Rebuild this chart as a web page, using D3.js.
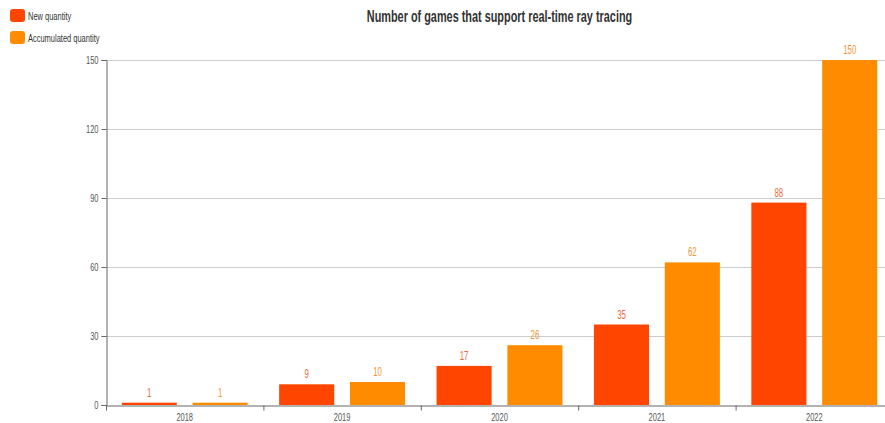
<!DOCTYPE html>
<html>
<head>
<meta charset="utf-8">
<script src="https://cdn.jsdelivr.net/npm/d3@7"></script>
<style>
  body { margin: 0; background: #fff; }
  svg text { font-family: "Liberation Sans", Arial, sans-serif; }
</style>
</head>
<body>
<svg id="chart" width="885" height="423"></svg>
<script>
const years = ["2018", "2019", "2020", "2021", "2022"];
const newQuantity = [1, 9, 17, 35, 88];
const accumulatedQuantity = [1, 10, 26, 62, 150];
const seriesNames = ["New quantity", "Accumulated quantity"];
const seriesColors = ["#FF4500", "#FF8C00"];
const yTicks = [0, 30, 60, 90, 120, 150];

const svg = d3.select("#chart");
const margin = { left: 106, right: -8, top: 60 };
const W = 885;
const plotBottom = 405;

const x = d3.scaleBand().domain(years).range([margin.left, W - margin.right]);
const inner = d3.scaleBand().domain(seriesNames).range([0, x.bandwidth()])
  .paddingInner(2 / 9).paddingOuter(2 / 9);
const y = d3.scaleLinear().domain([0, 150]).range([plotBottom, margin.top]);

// grid lines
svg.append("g").selectAll("line").data(yTicks.filter(d => d > 0)).join("line")
  .attr("x1", margin.left).attr("x2", W - margin.right)
  .attr("y1", d => y(d) + 0.5).attr("y2", d => y(d) + 0.5)
  .attr("stroke", "#cccccc").attr("stroke-width", 1);

// bars and value labels
const series = [newQuantity, accumulatedQuantity];
const labelColors = ["#E8693F", "#F0963A"];
series.forEach((vals, si) => {
  const g = svg.append("g");
  g.selectAll("rect").data(vals).join("rect")
    .attr("x", (d, i) => x(years[i]) + inner(seriesNames[si]))
    .attr("width", inner.bandwidth())
    .attr("y", d => y(d))
    .attr("height", d => plotBottom - y(d))
    .attr("fill", seriesColors[si]);
  g.selectAll("text").data(vals).join("text")
    .attr("class", "narrow")
    .attr("x", (d, i) => x(years[i]) + inner(seriesNames[si]) + inner.bandwidth() / 2)
    .attr("y", d => y(d) - 6)
    .attr("text-anchor", "middle")
    .attr("font-size", 12)
    .attr("fill", labelColors[si])
    .text(d => d);
});

// y axis
const yAxis = svg.append("g").attr("transform", `translate(${margin.left + 0.5},0)`)
  .call(d3.axisLeft(y).tickValues(yTicks).tickSize(5).tickPadding(3));
yAxis.select(".domain").attr("stroke", "#666");
yAxis.selectAll(".tick line").attr("stroke", "#666");
yAxis.selectAll(".tick text").attr("class", "narrow").attr("fill", "#555")
  .attr("font-size", 11.5).attr("font-family", null);

// x axis
const xAxis = svg.append("g").attr("transform", `translate(0,${plotBottom + 0.5})`)
  .call(d3.axisBottom(x).tickSize(0).tickPadding(7));
xAxis.select(".domain").attr("stroke", "#666");
xAxis.selectAll(".tick text").attr("class", "narrow").attr("fill", "#555")
  .attr("font-size", 11.5).attr("font-family", null);
xAxis.append("g").selectAll("line").data(years).join("line")
  .attr("x1", d => x(d) + 0.5).attr("x2", d => x(d) + 0.5)
  .attr("y1", 0).attr("y2", 5).attr("stroke", "#666");

// title
svg.append("text").attr("class", "narrow title")
  .attr("x", (margin.left + W - margin.right) / 2).attr("y", 22)
  .attr("text-anchor", "middle").attr("font-size", 17).attr("font-weight", "bold")
  .attr("fill", "#333")
  .text("Number of games that support real-time ray tracing");

// legend
const legend = svg.append("g");
seriesNames.forEach((name, i) => {
  legend.append("rect").attr("x", 10).attr("y", 9 + i * 22).attr("width", 15).attr("height", 13)
    .attr("rx", 3).attr("fill", seriesColors[i]);
  legend.append("text").attr("class", "narrow").attr("x", 28).attr("y", 19.5 + i * 22)
    .attr("font-size", 11.5).attr("fill", "#333").text(name);
});

// condensed lettering: squeeze every label horizontally
svg.selectAll("text.narrow").each(function () {
  const el = d3.select(this);
  const k = el.classed("title") ? 0.64 : 0.65;
  el.attr("textLength", this.getComputedTextLength() * k).attr("lengthAdjust", "spacingAndGlyphs");
});
</script>
</body>
</html>
